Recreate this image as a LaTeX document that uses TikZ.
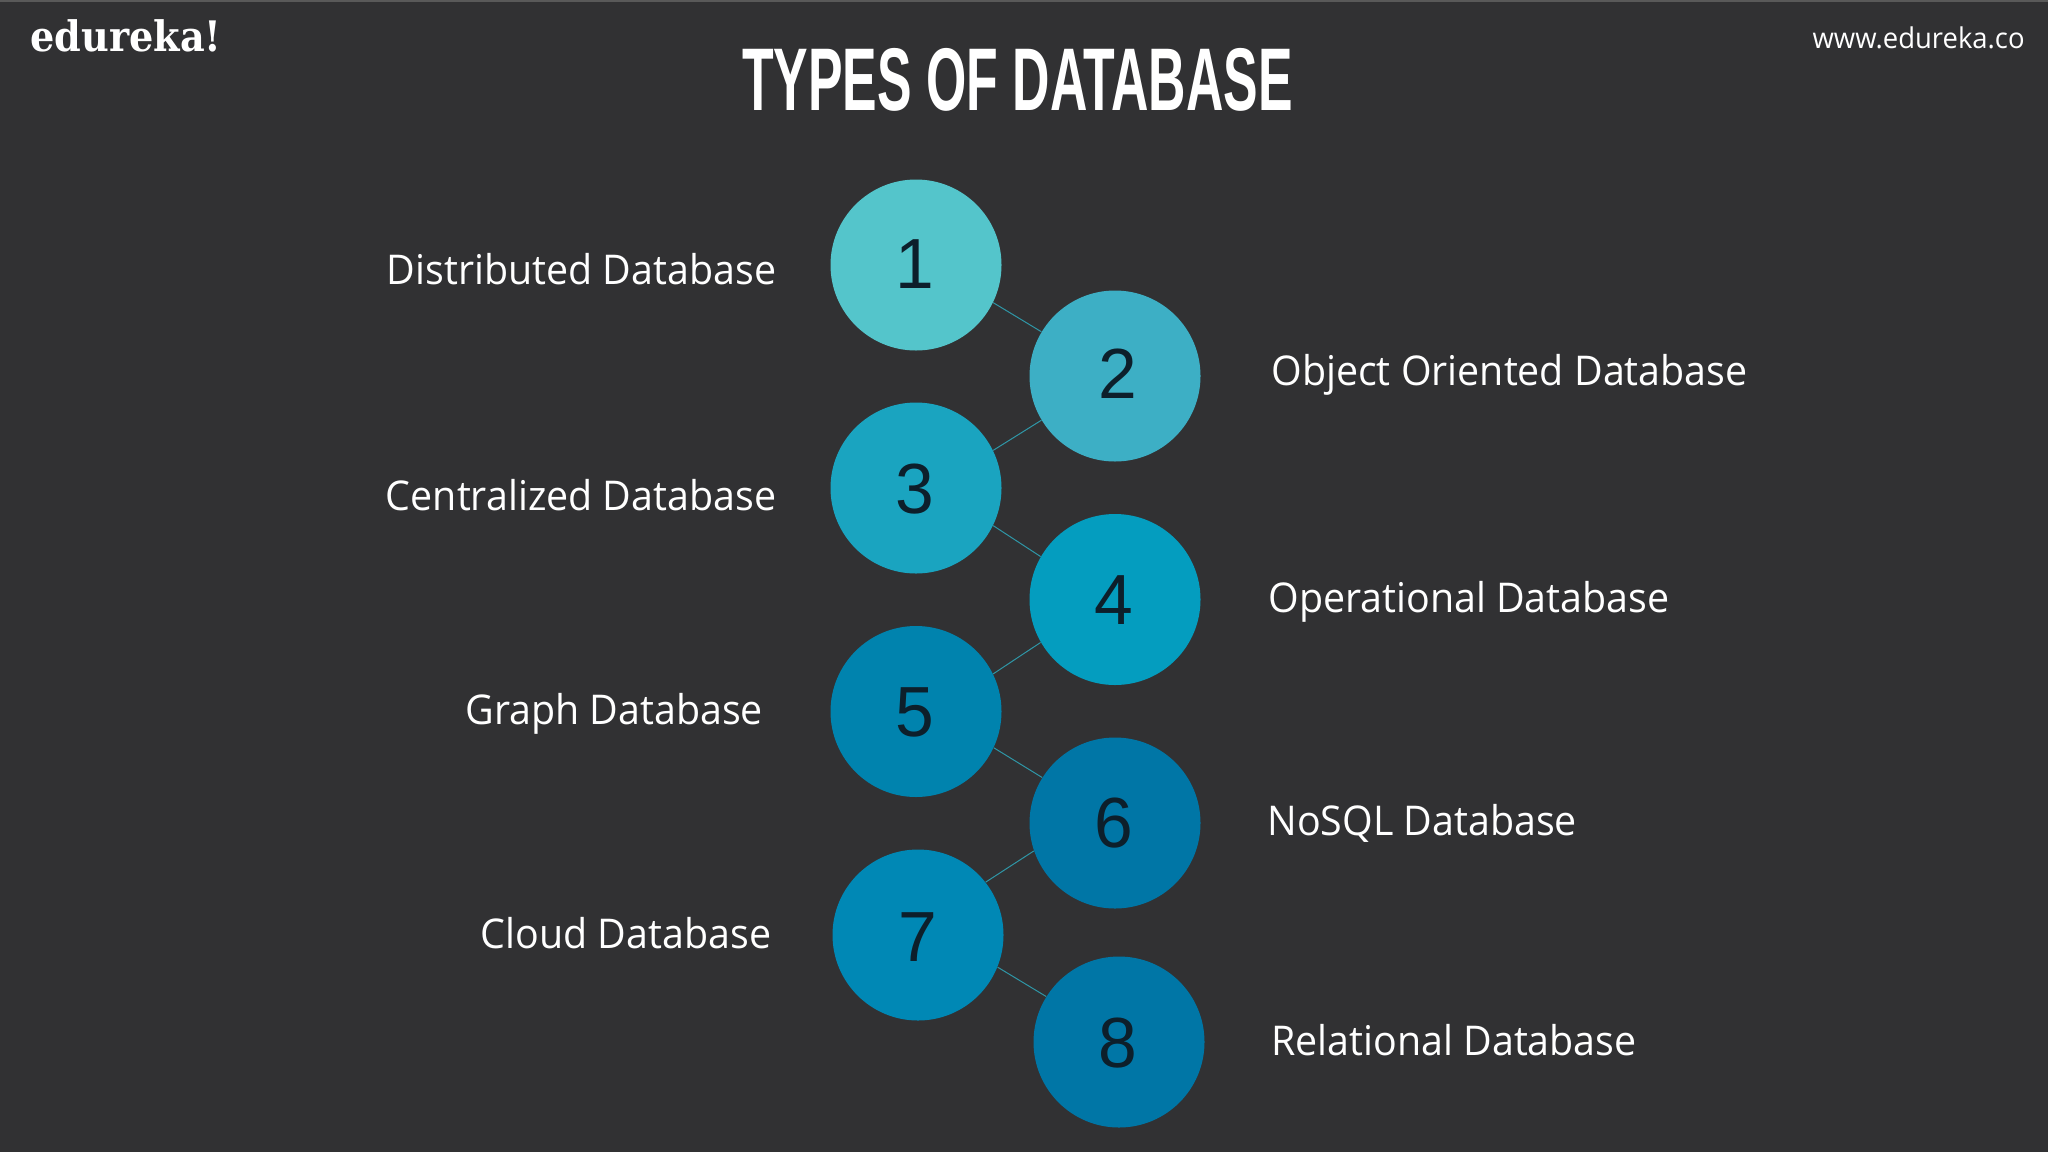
\documentclass[tikz,border=0pt]{standalone}
\usepackage{fontspec}
\setmainfont[FakeStretch=0.96]{Open Sans}
\newfontfamily\numfont[FakeStretch=0.98]{Liberation Sans}
\newfontfamily\titlefont[FakeStretch=0.582]{Liberation Sans Bold}
\newfontfamily\logofont[FakeStretch=0.91]{DejaVu Serif Bold}
\definecolor{bgc}{HTML}{313133}
\definecolor{c1}{HTML}{54C5CB}
\definecolor{c2}{HTML}{3DAFC5}
\definecolor{c3}{HTML}{1AA4C0}
\definecolor{c4}{HTML}{049DBF}
\definecolor{c5}{HTML}{0083AE}
\definecolor{c6}{HTML}{0076A6}
\definecolor{c7}{HTML}{0088B5}
\definecolor{c8}{HTML}{0076A6}
\definecolor{numc}{HTML}{0D1F2B}
\definecolor{linkc}{HTML}{2F96A6}
\tikzset{
  x=0.5pt,y=-0.5pt,
  circ/.style={circle,minimum size=85.5pt,inner sep=0pt},
  digit/.style={text=numc,inner sep=0pt,font=\numfont\fontsize{35.5}{36}\selectfont},
  lab/.style={text=white,inner sep=0pt,font=\fontsize{20.5}{24}\selectfont},
  link/.style={draw=linkc,line width=0.5pt}
}
\begin{document}
\begin{tikzpicture}
\useasboundingbox (0,0) rectangle (2048,1152);
\fill[bgc] (0,0) rectangle (2048,1152);
\fill[black!65!white] (0,0) rectangle (2048,1.5);
\node[circ,fill=c1] (n1) at (916,265) {};
\node[circ,fill=c2] (n2) at (1115,376) {};
\node[circ,fill=c3] (n3) at (916,488) {};
\node[circ,fill=c4] (n4) at (1115,599.5) {};
\node[circ,fill=c5] (n5) at (916,711.5) {};
\node[circ,fill=c6] (n6) at (1115,823) {};
\node[circ,fill=c7] (n7) at (918,935) {};
\node[circ,fill=c8] (n8) at (1119,1042) {};
\draw[link] (n1.-26.6) -- (n2.149.6);
\draw[link] (n2.211.5) -- (n3.26.6);
\draw[link] (n3.-26.6) -- (n4.150);
\draw[link] (n4.210.7) -- (n5.26.2);
\draw[link] (n5.-25.8) -- (n6.148.5);
\draw[link] (n6.199.4) -- (n7.38.3);
\draw[link] (n7.-22.3) -- (n8.148.5);
\node[digit] (d1) at (915,264) {1};
\node[digit] (d2) at (1118,374) {2};
\node[digit] (d3) at (915,489) {3};
\node[digit] (d4) at (1114,600) {4};
\node[digit] (d5) at (915,712) {5};
\node[digit] (d6) at (1114,823) {6};
\node[digit] (d7) at (918,937) {7};
\node[digit] (d8) at (1118,1043) {8};
\node[lab,anchor=base east] (l1) at (776.5,284) {Distributed Database};
\node[lab,anchor=base west] (l2) at (1271,385.5) {Object Oriented Database};
\node[lab,anchor=base east] (l3) at (776.5,510) {Centralized Database};
\node[lab,anchor=base west] (l4) at (1268,612.5) {Operational Database};
\node[lab,anchor=base east] (l5) at (763.5,724) {Graph Database};
\node[lab,anchor=base west] (l6) at (1267,835) {NoSQL Database};
\node[lab,anchor=base east] (l7) at (771.5,948.5) {Cloud Database};
\node[lab,anchor=base west] (l8) at (1271,1055) {Relational Database};
\node[text=white,inner sep=0pt,font=\titlefont\fontsize{44.5}{45}\selectfont] (title) at (1017.5,80) {TYPES OF DATABASE};
\node[text=white,inner sep=0pt,anchor=base west,font=\logofont\fontsize{21}{21}\selectfont] (logo) at (30,51) {edureka!};
\node[text=white,inner sep=0pt,anchor=base east,font=\fontsize{14.3}{16}\selectfont] (web) at (2025,48) {www.edureka.co};
\end{tikzpicture}
\end{document}
